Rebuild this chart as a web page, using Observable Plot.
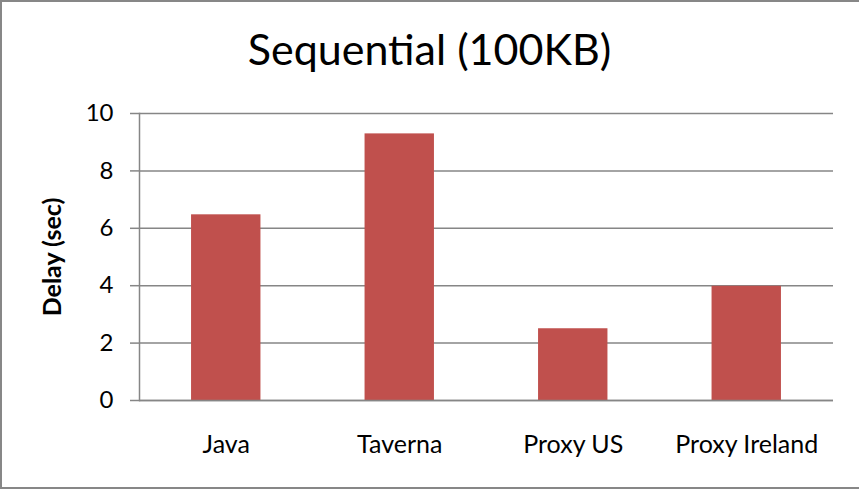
<!DOCTYPE html>
<html>
<head>
<meta charset="utf-8">
<script src="https://cdn.jsdelivr.net/npm/d3@7"></script>
<script src="https://cdn.jsdelivr.net/npm/@observablehq/plot@0.6"></script>
<style>
  html, body { margin: 0; padding: 0; background: #fff; }
  #wrap { position: relative; width: 859px; height: 490px; overflow: hidden; font-family: Lato, "Open Sans", sans-serif; }
  #frame { position: absolute; left: 0; top: 0; width: 861px; height: 489px; box-sizing: border-box; border: 2px solid #878787; border-right: none; pointer-events: none; }
  #title { position: absolute; left: 0; top: 0; width: 859px; height: 80px; text-align: center; font-size: 43px; line-height: 43px; padding-top: 27px; box-sizing: border-box; color: #000; }
  #chart { position: absolute; left: 0; top: 80px; }
</style>
</head>
<body>
<div id="wrap">
  <div id="title">Sequential (100KB)</div>
  <div id="chart"></div>
  <div id="frame"></div>
</div>
<script>
const categories = ["Java", "Taverna", "Proxy US", "Proxy Ireland"];
const delays = [6.47, 9.29, 2.5, 3.98];
const yTicks = [0, 2, 4, 6, 8, 10];
const yLabel = "Delay (sec)";

const data = categories.map((c, i) => ({category: c, delay: delays[i]}));
const gridColor = "#868686";

const plot = Plot.plot({
  width: 859,
  height: 408,
  marginTop: 33,
  marginBottom: 88,
  marginLeft: 139,
  marginRight: 26,
  style: {fontFamily: "Lato, 'Open Sans', sans-serif", fontSize: "24px", color: "#000", background: "transparent"},
  x: {domain: categories, paddingInner: 0.6, paddingOuter: 0.3, round: false, label: null},
  y: {domain: [0, 10], label: null},
  marks: [
    Plot.gridY(yTicks, {stroke: gridColor, strokeOpacity: 1, strokeWidth: 1.5}),
    Plot.barY(data, {x: "category", y: "delay", fill: "#C0504D"}),
    Plot.ruleY([0], {stroke: gridColor, strokeWidth: 1.5}),
    Plot.frame({anchor: "left", stroke: gridColor, strokeWidth: 1.5}),
    Plot.axisY(yTicks, {tickSize: 9, tickPadding: 17, stroke: gridColor, strokeWidth: 1.5, fill: "#000", label: null, tickFormat: d => String(d)}),
    Plot.axisX({tickSize: 0, tickPadding: 35, fill: "#000", label: null, fontSize: 25}),
    Plot.text([yLabel], {frameAnchor: "left", textAnchor: "middle", dx: -87, rotate: -90, fontWeight: "bold", fontSize: 25, fill: "#000"})
  ]
});
document.getElementById("chart").appendChild(plot);
</script>
</body>
</html>
